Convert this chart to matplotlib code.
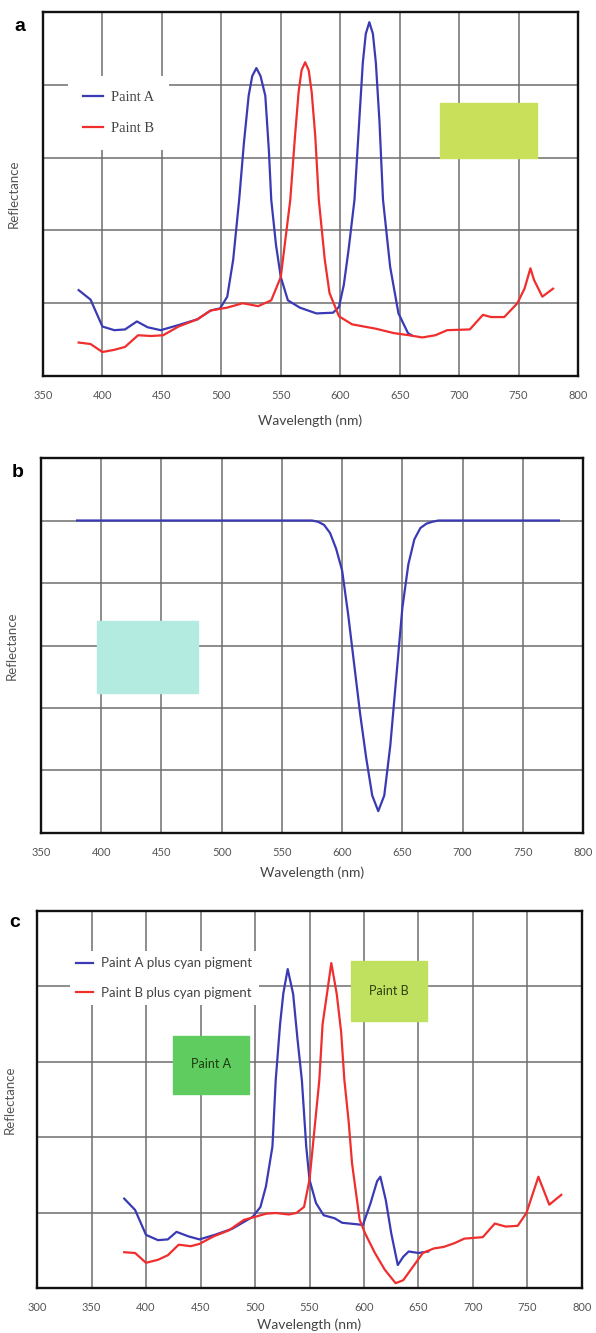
import matplotlib
matplotlib.use('Agg')
import matplotlib.pyplot as plt
from matplotlib.patches import Rectangle

plt.rcParams['font.family'] = ['Lato', 'DejaVu Sans']

# ---- panel a : two paints ----
wl_a_blue = [380, 390, 400, 410, 419, 429, 438, 449, 464, 480, 491, 499, 505, 510,
             515, 519, 523, 526, 529.5, 533, 537, 540, 542, 546, 550, 556, 566, 580, 594, 599,
             603, 607, 612, 616, 619, 621.5, 624.5, 627.5, 630, 633, 636, 642, 649, 657, 660]
refl_a_blue = [1.18, 1.05, 0.68, 0.63, 0.64, 0.75, 0.67, 0.63, 0.70, 0.78, 0.90, 0.93, 1.09, 1.60,
               2.42, 3.20, 3.85, 4.12, 4.23, 4.12, 3.85, 3.10, 2.42, 1.80, 1.36, 1.04, 0.94, 0.86, 0.87, 0.95,
               1.25, 1.73, 2.42, 3.50, 4.30, 4.70, 4.86, 4.70, 4.30, 3.50, 2.42, 1.50, 0.86, 0.59, 0.56]

wl_a_red = [380, 390, 400, 410, 419, 430, 441, 451, 464, 480, 491, 505, 518, 531, 542,
            550, 558, 562, 565, 567.5, 570.5, 573.5, 576, 579, 582, 587, 591, 599, 610, 630, 645, 658,
            669, 680, 690, 709, 720, 727, 738, 749, 755, 760, 763, 770, 779]
refl_a_red = [0.46, 0.44, 0.33, 0.36, 0.40, 0.56, 0.55, 0.56, 0.68, 0.78, 0.90, 0.94, 1.00, 0.96, 1.04,
              1.36, 2.42, 3.30, 3.90, 4.20, 4.31, 4.20, 3.90, 3.30, 2.42, 1.60, 1.14, 0.82, 0.71, 0.65, 0.59, 0.56,
              0.53, 0.56, 0.63, 0.64, 0.84, 0.81, 0.81, 1.00, 1.20, 1.48, 1.32, 1.09, 1.20]

# ---- panel b : cyan pigment ----
wl_b = [380, 400, 450, 500, 550, 575, 580, 585, 590, 595, 600, 605, 610, 615, 620,
        625, 630, 635, 640, 645, 650, 655, 660, 665, 670, 675, 680, 700, 750, 780]
refl_b = [5.0, 5.0, 5.0, 5.0, 5.0, 5.0, 4.98, 4.93, 4.80, 4.55, 4.20, 3.50, 2.70, 1.90, 1.20,
          0.60, 0.35, 0.60, 1.40, 2.50, 3.60, 4.30, 4.70, 4.88, 4.95, 4.98, 5.0, 5.0, 5.0, 5.0]

# ---- panel c : paints plus cyan ----
wl_c_blue = [380, 390, 400, 411, 420, 428, 439, 449, 463, 479, 498, 505, 510, 516, 519,
             523, 526, 530, 535, 539, 543, 547, 550, 556, 563, 573, 580, 594, 599, 606,
             612, 615, 620, 625, 631, 636, 641, 650, 659]
refl_c_blue = [1.19, 1.04, 0.71, 0.64, 0.65, 0.75, 0.69, 0.65, 0.71, 0.79, 0.95, 1.08, 1.35, 1.88, 2.76,
               3.50, 3.91, 4.23, 3.90, 3.30, 2.76, 1.88, 1.44, 1.13, 0.97, 0.93, 0.87, 0.85, 0.84, 1.13,
               1.42, 1.48, 1.17, 0.73, 0.31, 0.42, 0.49, 0.47, 0.49]

wl_c_red = [380, 390, 400, 411, 420, 430, 441, 449, 462, 476, 490, 498, 510, 519, 531,
            538, 545, 550, 556, 559, 562, 566, 570, 575, 579, 582, 586, 589, 596, 601,
            610, 619, 629, 636, 647, 654, 664, 673, 683, 692, 709, 720, 730, 741, 749,
            760, 770, 781]
refl_c_red = [0.48, 0.47, 0.34, 0.38, 0.44, 0.58, 0.56, 0.59, 0.69, 0.77, 0.91, 0.94, 0.99, 1.00, 0.98,
              1.00, 1.08, 1.44, 2.32, 2.76, 3.50, 3.90, 4.31, 3.90, 3.40, 2.76, 2.20, 1.66, 0.91, 0.73,
              0.47, 0.25, 0.07, 0.11, 0.33, 0.47, 0.53, 0.55, 0.60, 0.66, 0.68, 0.86, 0.82, 0.83, 1.00,
              1.48, 1.11, 1.24]

BLUE = '#3a3ab5'
RED = '#f02e2e'
GRID = '#6e6e6e'
TICK = '#555555'


def style_axes(ax, xmin, xmax, ymax, ylab_x, xlab_y):
    ax.set_xlim(xmin, xmax)
    ax.set_ylim(0, ymax)
    ax.set_xticks(range(xmin, xmax + 1, 50))
    ax.set_yticks(range(0, ymax + 1))
    ax.set_yticklabels([])
    ax.grid(True, color=GRID, lw=1.1, zorder=0)
    ax.set_axisbelow(True)
    ax.tick_params(length=0, labelsize=8, labelcolor=TICK, pad=10)
    for s in ax.spines.values():
        s.set_linewidth(1.7)
        s.set_color('#111111')
    ax.set_xlabel('Wavelength (nm)', fontsize=10, color='#444444')
    ax.set_ylabel('Reflectance', fontsize=9.5, color='#555555')
    ax.xaxis.set_label_coords(0.5, xlab_y)
    ax.yaxis.set_label_coords(ylab_x, 0.5)


fig = plt.figure(figsize=(5.96, 13.33), dpi=100)

# panel a
ax1 = fig.add_axes([0.0721, 0.7179, 0.8977, 0.2731])
style_axes(ax1, 350, 800, 5, -0.043, -0.124)
ax1.xaxis.label.set_va('center')
ax1.plot(wl_a_blue, refl_a_blue, color=BLUE, lw=1.6, label='Paint A', zorder=3)
ax1.plot(wl_a_red, refl_a_red, color=RED, lw=1.6, label='Paint B', zorder=3)
ax1.add_patch(Rectangle((684, 3.0), 81.5, 0.75, color='#c8e05a', zorder=2))
leg = ax1.legend(loc='upper left', bbox_to_anchor=(0.047, 0.824), frameon=True,
                 facecolor='white', edgecolor='none', framealpha=1, fancybox=False,
                 prop={'family': 'Liberation Serif', 'size': 10.5}, handlelength=1.37,
                 handletextpad=0.55, labelspacing=1.24, borderpad=1.0, borderaxespad=0)
for t in leg.get_texts():
    t.set_color('#444444')
fig.text(0.034, 0.98, 'a', fontsize=14, fontweight='bold', ha='center', va='center',
         family=['Liberation Sans', 'DejaVu Sans'])

# panel b
ax2 = fig.add_axes([0.0688, 0.3751, 0.9094, 0.2813])
style_axes(ax2, 350, 800, 6, -0.042, -0.107)
ax2.xaxis.label.set_va('center')
ax2.plot(wl_b, refl_b, color=BLUE, lw=1.6, zorder=3)
ax2.add_patch(Rectangle((396.5, 2.24), 84, 1.15, color='#b4ebe0', zorder=2))
fig.text(0.029, 0.6452, 'b', fontsize=14, fontweight='bold', ha='center', va='center',
         family=['Liberation Sans', 'DejaVu Sans'])

# panel c
ax3 = fig.add_axes([0.0621, 0.0334, 0.9144, 0.2832])
style_axes(ax3, 300, 800, 5, -0.0385, -0.097)
ax3.xaxis.label.set_va('center')
ax3.plot(wl_c_blue, refl_c_blue, color=BLUE, lw=1.6, label='Paint A plus cyan pigment', zorder=3)
ax3.plot(wl_c_red, refl_c_red, color=RED, lw=1.6, label='Paint B plus cyan pigment', zorder=3)
ax3.add_patch(Rectangle((424.8, 2.58), 69.7, 0.77, color='#5fcc5f', zorder=2))
ax3.text(459.6, 2.97, 'Paint A', fontsize=9, color='#1d3a10', ha='center', va='center', zorder=4)
ax3.add_patch(Rectangle((587.7, 3.54), 69.7, 0.80, color='#bfe15f', zorder=2))
ax3.text(622.5, 3.94, 'Paint B', fontsize=9, color='#2d4010', ha='center', va='center', zorder=4)
leg3 = ax3.legend(loc='upper left', bbox_to_anchor=(0.06, 0.895), frameon=True,
                  facecolor='white', edgecolor='none', framealpha=1, fancybox=False,
                  fontsize=9.5, handlelength=1.29, handletextpad=0.6, labelspacing=1.32,
                  borderpad=0.5, borderaxespad=0)
for t in leg3.get_texts():
    t.set_color('#444444')
fig.text(0.025, 0.3076, 'c', fontsize=14, fontweight='bold', ha='center', va='center',
         family=['Liberation Sans', 'DejaVu Sans'])

fig.savefig('out.png', dpi=100)
